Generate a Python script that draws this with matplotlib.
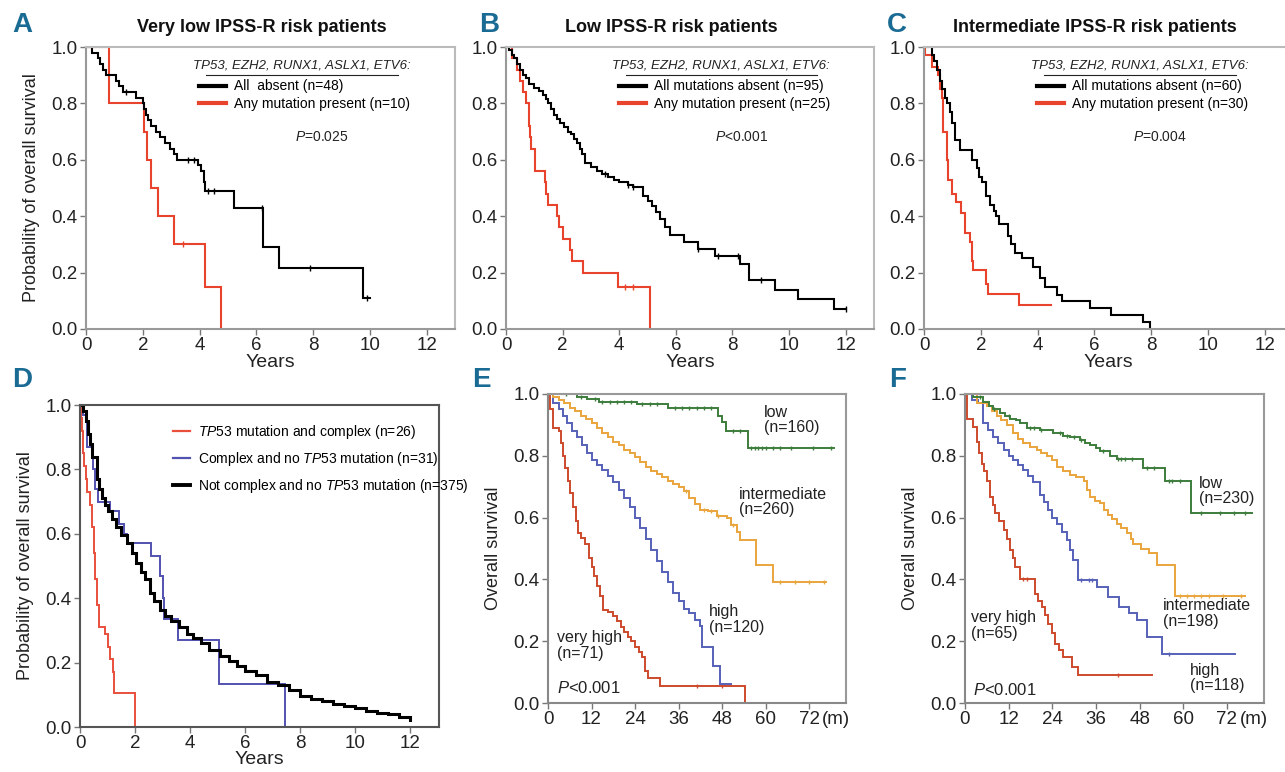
import numpy as np
import matplotlib
matplotlib.use("Agg")
import matplotlib.pyplot as plt
from matplotlib.lines import Line2D

plt.rcParams["font.family"] = ["Liberation Sans", "DejaVu Sans"]
plt.rcParams["mathtext.fontset"] = "custom"
plt.rcParams["mathtext.it"] = "Liberation Sans:italic"
plt.rcParams["mathtext.rm"] = "Liberation Sans"

RED = "#e8432c"
LETTER = "#1a6b94"

# ---- Panel A: very low IPSS-R ----
a_absent_t = [0, 0.22, 0.42, 0.5, 0.6, 0.72, 1.05, 1.15, 1.3, 1.75, 2.0, 2.05, 2.1, 2.2, 2.3, 2.45,
              2.6, 2.8, 2.95, 3.1, 3.2, 3.95, 4.05, 4.15, 4.2, 5.2, 6.25, 6.8, 9.75, 10.0]
a_absent_s = [1, 0.98, 0.96, 0.94, 0.92, 0.90, 0.88, 0.86, 0.84, 0.82, 0.80, 0.78, 0.76, 0.74, 0.72, 0.70,
              0.68, 0.66, 0.64, 0.62, 0.60, 0.58, 0.56, 0.52, 0.49, 0.43, 0.29, 0.215, 0.11, 0.11]
a_absent_cens = [1.4, 3.6, 3.8, 4.3, 4.5, 6.2, 7.9, 9.9]
a_mut_t = [0, 0.8, 2.05, 2.15, 2.3, 2.55, 3.1, 4.2, 4.75]
a_mut_s = [1, 0.8, 0.7, 0.6, 0.5, 0.4, 0.3, 0.15, 0.0]
a_mut_cens = [3.4]

# ---- Panel B: low IPSS-R ----
b_absent_t = [0, 0.1, 0.2, 0.3, 0.4, 0.5, 0.6, 0.7, 0.8, 1.0, 1.15, 1.3, 1.4, 1.5, 1.6, 1.7, 1.8, 1.9,
              2.05, 2.2, 2.3, 2.4, 2.5, 2.6, 2.7, 2.8, 3.0, 3.2, 3.4, 3.6, 3.8, 4.0, 4.3, 4.5, 4.85, 5.0,
              5.15, 5.3, 5.45, 5.6, 5.8, 6.3, 6.8, 7.4, 8.25, 8.6, 9.5, 10.3, 11.6, 12.0]
b_absent_s = [1, 0.99, 0.97, 0.96, 0.94, 0.92, 0.90, 0.89, 0.87, 0.855, 0.845, 0.83, 0.815, 0.80, 0.78,
              0.76, 0.745, 0.73, 0.715, 0.70, 0.69, 0.675, 0.66, 0.64, 0.62, 0.59, 0.575, 0.56, 0.55,
              0.54, 0.53, 0.52, 0.51, 0.505, 0.47, 0.455, 0.435, 0.415, 0.39, 0.36, 0.335, 0.31, 0.285,
              0.26, 0.23, 0.175, 0.14, 0.105, 0.07, 0.07]
b_absent_cens = [3.5, 4.3, 4.5, 6.8, 7.5, 8.2, 9.0, 12.0]
b_mut_t = [0, 0.2, 0.38, 0.5, 0.6, 0.7, 0.8, 0.85, 0.9, 1.02, 1.38, 1.43, 1.5, 1.79, 1.88, 2.0, 2.26,
           2.32, 2.73, 3.96, 5.08]
b_mut_s = [1, 0.96, 0.92, 0.88, 0.84, 0.80, 0.72, 0.68, 0.64, 0.56, 0.52, 0.48, 0.44, 0.40, 0.36, 0.32,
           0.28, 0.24, 0.20, 0.15, 0.0]
b_mut_cens = [4.2, 4.5]

# ---- Panel C: intermediate IPSS-R ----
c_absent_t = [0, 0.27, 0.35, 0.45, 0.55, 0.65, 0.75, 0.82, 0.9, 0.97, 1.09, 1.27, 1.68, 1.85, 1.95, 2.05,
              2.2, 2.32, 2.45, 2.55, 2.65, 2.97, 3.07, 3.2, 3.44, 3.85, 4.08, 4.26, 4.67, 4.85, 5.84,
              6.6, 7.72, 7.95]
c_absent_s = [1, 0.97, 0.95, 0.92, 0.88, 0.85, 0.82, 0.80, 0.77, 0.73, 0.67, 0.634, 0.60, 0.57, 0.54,
              0.52, 0.47, 0.44, 0.42, 0.40, 0.373, 0.33, 0.30, 0.27, 0.25, 0.22, 0.18, 0.15, 0.12, 0.10,
              0.075, 0.05, 0.025, 0.0]
c_mut_t = [0, 0.03, 0.27, 0.5, 0.56, 0.62, 0.68, 0.8, 0.86, 0.97, 1.11, 1.29, 1.44, 1.62, 1.68, 1.74,
           2.18, 2.24, 3.35, 4.46]
c_mut_s = [1, 0.97, 0.93, 0.90, 0.85, 0.82, 0.70, 0.60, 0.53, 0.48, 0.45, 0.41, 0.34, 0.31, 0.24, 0.21,
           0.16, 0.125, 0.085, 0.085]

# ---- Panel D: TP53 / complex karyotype ----
d_tp53_t = [0, 0.03, 0.06, 0.1, 0.15, 0.2, 0.27, 0.35, 0.42, 0.5, 0.55, 0.6, 0.7, 0.9, 1.0, 1.1, 1.2,
            1.25, 2.0]
d_tp53_s = [1, 0.96, 0.92, 0.85, 0.81, 0.77, 0.73, 0.69, 0.62, 0.54, 0.46, 0.38, 0.31, 0.29, 0.25, 0.21,
            0.17, 0.105, 0.0]
d_complex_t = [0, 0.1, 0.25, 0.46, 0.55, 0.67, 1.09, 1.4, 1.6, 1.7, 2.57, 2.9, 3.0, 3.05, 3.58, 5.05, 7.45]
d_complex_s = [1, 0.97, 0.87, 0.80, 0.74, 0.70, 0.67, 0.63, 0.60, 0.57, 0.53, 0.47, 0.40, 0.335, 0.27,
               0.135, 0.0]
d_other_t = [0, 0.1, 0.2, 0.3, 0.36, 0.45, 0.6, 0.7, 0.8, 0.9, 1.0, 1.15, 1.3, 1.5, 1.7, 1.9, 2.05, 2.2,
             2.35, 2.55, 2.7, 2.9, 3.1, 3.3, 3.6, 3.9, 4.1, 4.4, 4.7, 5.1, 5.4, 5.7, 6.0, 6.4, 6.8, 7.2,
             7.6, 8.0, 8.4, 8.8, 9.2, 9.6, 10.0, 10.4, 10.8, 11.2, 11.6, 12.0]
d_other_s = [1, 0.98, 0.95, 0.91, 0.88, 0.84, 0.77, 0.74, 0.71, 0.69, 0.67, 0.645, 0.62, 0.595, 0.57,
             0.54, 0.51, 0.48, 0.46, 0.415, 0.39, 0.364, 0.345, 0.33, 0.31, 0.29, 0.275, 0.26, 0.24,
             0.22, 0.205, 0.19, 0.173, 0.16, 0.14, 0.13, 0.115, 0.095, 0.088, 0.08, 0.07, 0.064, 0.058,
             0.05, 0.045, 0.04, 0.03, 0.023]

# ---- Panel E: IPSS-R groups (months) ----
e_low_t = [0, 8, 10.7, 14, 24.5, 33, 47, 48, 49, 55.2, 79]
e_low_s = [1, 0.99, 0.985, 0.975, 0.967, 0.955, 0.93, 0.91, 0.88, 0.825, 0.825]
e_low_cens = [5, 9, 13, 15, 17, 19, 21, 23, 26, 28, 30, 35, 37, 39, 41, 43, 45, 51, 53, 56, 57, 58,
              59, 60, 62, 64, 67, 73, 78]
e_int_t = [0, 1.5, 3, 4.5, 6, 7.5, 9, 10.5, 12, 13.5, 15, 16.5, 18, 19.5, 21, 22.5, 24, 25.5, 27, 28.5,
           30, 31.5, 33, 34.5, 36, 37.5, 39, 40.5, 42, 44, 46.5, 49.3, 50.6, 52, 53, 57.5, 62, 76.8]
e_int_s = [1, 0.99, 0.98, 0.97, 0.955, 0.945, 0.93, 0.92, 0.905, 0.89, 0.875, 0.86, 0.845, 0.835, 0.82,
           0.81, 0.795, 0.78, 0.765, 0.75, 0.74, 0.73, 0.72, 0.71, 0.70, 0.685, 0.665, 0.645, 0.625,
           0.62, 0.605, 0.60, 0.575, 0.555, 0.527, 0.448, 0.39, 0.39]
e_int_cens = [38, 43, 45, 47, 51, 64, 68, 72, 76]
e_high_t = [0, 1.5, 3, 4, 5.2, 6.5, 8, 9.3, 10.7, 12, 13.5, 15, 16.5, 18, 19.5, 21, 22.5, 24, 25.5, 27,
            28.5, 30, 31.5, 33, 34.5, 36, 37.5, 39, 40.5, 42, 42.6, 45.6, 47.4, 50.6]
e_high_s = [1, 0.97, 0.95, 0.93, 0.905, 0.88, 0.86, 0.835, 0.81, 0.785, 0.77, 0.755, 0.735, 0.715, 0.69,
            0.665, 0.635, 0.60, 0.565, 0.53, 0.495, 0.46, 0.425, 0.39, 0.355, 0.33, 0.305, 0.29, 0.27,
            0.25, 0.18, 0.12, 0.06, 0.06]
e_vhigh_t = [0, 0.6, 1.5, 2.9, 3.5, 4.2, 4.8, 5.5, 6.2, 7, 7.7, 8.4, 9.2, 10.3, 11.2, 12, 12.8, 13.5,
             14.4, 15.3, 16.5, 18, 19, 20, 21, 22, 23, 24, 25, 25.9, 26.8, 27.7, 30.9, 54.3]
e_vhigh_s = [1, 0.95, 0.89, 0.88, 0.84, 0.80, 0.76, 0.72, 0.68, 0.635, 0.59, 0.55, 0.535, 0.515, 0.47,
             0.44, 0.41, 0.38, 0.345, 0.30, 0.295, 0.28, 0.265, 0.245, 0.23, 0.215, 0.20, 0.18, 0.165,
             0.15, 0.105, 0.08, 0.055, 0.0]
e_vhigh_cens = [41, 48]

# ---- Panel F: IPSS-R groups, validation (months) ----
f_low_t = [0, 2.3, 5, 6.5, 7.8, 9.6, 11, 12.4, 14, 15.1, 17, 20.6, 24.3, 27, 29, 31.7, 33, 34.4, 36,
           37.2, 39.9, 41.7, 49, 55, 62, 78.9]
f_low_s = [1, 0.99, 0.975, 0.96, 0.95, 0.94, 0.93, 0.92, 0.915, 0.905, 0.89, 0.885, 0.875, 0.865, 0.86,
           0.85, 0.84, 0.835, 0.825, 0.815, 0.80, 0.79, 0.76, 0.72, 0.615, 0.615]
f_low_cens = [4, 8, 12, 18, 19, 21, 26, 28, 30, 32, 38, 42, 43, 44, 46, 50, 52, 56, 57, 59, 65, 70,
              74, 77]
f_int_t = [0, 3.2, 6, 7.5, 8.7, 10, 11.5, 13.3, 14.5, 16, 17.8, 19.7, 21, 22.5, 24, 25.2, 27, 28.9,
           30.5, 32.6, 33.5, 34.4, 35.8, 37.2, 38.3, 39.4, 40.5, 41.7, 43, 44.5, 45.5, 46.3, 48.5, 50.5,
           52.8, 57.8, 77]
f_int_s = [1, 0.97, 0.96, 0.945, 0.93, 0.915, 0.90, 0.873, 0.855, 0.84, 0.83, 0.82, 0.81, 0.80, 0.785,
           0.765, 0.75, 0.737, 0.73, 0.72, 0.69, 0.667, 0.655, 0.646, 0.625, 0.61, 0.595, 0.58, 0.565,
           0.55, 0.53, 0.516, 0.50, 0.484, 0.448, 0.346, 0.346]
f_int_cens = [59, 61, 63, 65, 67, 71, 76]
f_high_t = [0, 1.8, 3.7, 5, 6.4, 7.8, 9.2, 10.6, 12, 13.3, 14.7, 16, 17.4, 18.8, 20.6, 21.8, 22.9, 24,
            25.2, 26.6, 28, 29, 29.8, 31.2, 36.2, 39.4, 42.2, 45, 47.2, 50, 54.1, 74.3]
f_high_s = [1, 0.98, 0.97, 0.905, 0.885, 0.862, 0.84, 0.82, 0.80, 0.786, 0.77, 0.754, 0.735, 0.716,
            0.673, 0.65, 0.624, 0.60, 0.58, 0.555, 0.527, 0.495, 0.462, 0.397, 0.376, 0.343, 0.311,
            0.29, 0.268, 0.214, 0.16, 0.16]
f_high_cens = [32, 34, 35, 56]
f_vhigh_t = [0, 0.5, 2.3, 3.2, 3.9, 4.6, 5.3, 6, 6.9, 7.6, 8.3, 9.4, 10.6, 11.5, 12.4, 13.1, 13.8, 15.1,
             19.3, 20.2, 21.1, 22, 22.9, 23.8, 24.8, 25.9, 27, 29.4, 31.2, 51.4]
f_vhigh_s = [1, 0.92, 0.894, 0.846, 0.81, 0.775, 0.75, 0.72, 0.667, 0.64, 0.616, 0.59, 0.56, 0.53,
             0.495, 0.47, 0.44, 0.40, 0.354, 0.33, 0.311, 0.285, 0.257, 0.225, 0.192, 0.17, 0.149,
             0.117, 0.09, 0.09]
f_vhigh_cens = [16, 17, 42]

W, H = 1285, 772
TXT = "#222222"


def add_axes(fig, left, right, top, bottom):
    return fig.add_axes([left / W, 1 - bottom / H, (right - left) / W, (bottom - top) / H])


def km(ax, t, s, color, lw=1.4, cens=None, ms=5):
    ax.step(t, s, where="post", color=color, lw=lw, solid_joinstyle="miter")
    if cens:
        idx = np.searchsorted(t, cens, side="right") - 1
        vals = np.asarray(s)[idx]
        ax.plot(cens, vals, ls="none", marker="|", ms=ms, mew=1.0, color=color)


def style(ax, xlim, xticks, spine_color="#999999", box=True, box_color="#bbbbbb"):
    ax.set_xlim(*xlim)
    ax.set_ylim(0, 1.0)
    ax.set_xticks(xticks)
    ax.set_yticks([0, 0.2, 0.4, 0.6, 0.8, 1.0])
    ax.set_yticklabels(["0.0", "0.2", "0.4", "0.6", "0.8", "1.0"])
    ax.tick_params(labelsize=13.5, length=4, width=1, color="#777777", pad=2, labelcolor=TXT)
    for sp in ["left", "bottom"]:
        ax.spines[sp].set_color(spine_color)
        ax.spines[sp].set_linewidth(1.5)
    for sp in ["top", "right"]:
        ax.spines[sp].set_visible(box)
        ax.spines[sp].set_color(box_color)
        ax.spines[sp].set_linewidth(1.5)


def letter(fig, x, y, s):
    fig.text(x / W, 1 - y / H, s, fontsize=20, fontweight="bold", color=LETTER, ha="left", va="center")


fig = plt.figure(figsize=(W / 100, H / 100), dpi=100)

# ---------------- top row ----------------
top_panels = [
    ("A", 12, "Very low IPSS-R risk patients", 262, 86, 455, a_absent_t, a_absent_s, a_absent_cens,
     a_mut_t, a_mut_s, a_mut_cens, "All  absent (n=48)", "Any mutation present (n=10)", "$P$=0.025"),
    ("B", 479, "Low IPSS-R risk patients", 671, 506, 874, b_absent_t, b_absent_s, b_absent_cens,
     b_mut_t, b_mut_s, b_mut_cens, "All mutations absent (n=95)", "Any mutation present (n=25)", "$P$<0.001"),
    ("C", 887, "Intermediate IPSS-R risk patients", 1095, 924, 1293, c_absent_t, c_absent_s, None,
     c_mut_t, c_mut_s, None, "All mutations absent (n=60)", "Any mutation present (n=30)", "$P$=0.004"),
]
for let, lx, title, tx, l, r, t1, s1, c1, t2, s2, c2, lab1, lab2, ptxt in top_panels:
    ax = add_axes(fig, l, r, 47, 329)
    km(ax, t2, s2, RED, lw=1.5, cens=c2)
    km(ax, t1, s1, "black", lw=1.5, cens=c1)
    style(ax, (0, 13.0), [0, 2, 4, 6, 8, 10, 12])
    ax.set_xlabel("Years", fontsize=14, labelpad=0, color=TXT)
    letter(fig, lx, 25, let)
    fig.text(tx / W, 1 - 28 / H, title, fontsize=13, fontweight="bold", ha="center", va="center",
             color="#111111")
    ax.text(0.585, 0.936, "TP53, EZH2, RUNX1, ASLX1, ETV6:", transform=ax.transAxes, fontstyle="italic",
            fontsize=9.5, ha="center", va="center", color=TXT)
    ax.plot([0.325, 0.845], [0.9, 0.9], transform=ax.transAxes, color=TXT, lw=0.8)
    handles = [Line2D([], [], color="black", lw=3), Line2D([], [], color=RED, lw=3)]
    ax.legend(handles, [lab1, lab2], loc="upper left", bbox_to_anchor=(0.30, 0.895), frameon=False,
              fontsize=10, handlelength=1.9, handletextpad=0.6, labelspacing=0.25, borderpad=0.2,
              borderaxespad=0)
    ax.text(0.64, 0.68, ptxt, transform=ax.transAxes, fontsize=10, ha="center", va="center", color=TXT)
    if let == "A":
        ax.set_ylabel("Probability of overall survival", fontsize=13, labelpad=8, color=TXT)

# ---------------- panel D ----------------
ax = add_axes(fig, 80, 439, 405, 727)
km(ax, d_tp53_t, d_tp53_s, "#e8503c", lw=1.4)
km(ax, d_complex_t, d_complex_s, "#5252b0", lw=1.4)
km(ax, d_other_t, d_other_s, "black", lw=2.2)
style(ax, (0, 13.05), [0, 2, 4, 6, 8, 10, 12], spine_color="#555555", box_color="#555555")
ax.set_xlabel("Years", fontsize=14, labelpad=-1, color=TXT)
ax.set_ylabel("Probability of overall survival", fontsize=13, labelpad=8, color=TXT)
letter(fig, 12, 380, "D")
handles = [Line2D([], [], color="#e8503c", lw=1.6), Line2D([], [], color="#5252b0", lw=1.6),
           Line2D([], [], color="black", lw=2.8)]
labels = [r"$\mathit{TP53}$ mutation and complex (n=26)", r"Complex and no $\mathit{TP53}$ mutation (n=31)",
          r"Not complex and no $\mathit{TP53}$ mutation (n=375)"]
ax.legend(handles, labels, loc="upper left", bbox_to_anchor=(0.26, 0.945), frameon=False, fontsize=10,
          handlelength=1.2, handletextpad=0.6, labelspacing=0.65, borderpad=0, borderaxespad=0)

# ---------------- panels E and F ----------------
GREEN, ORANGE, BLUE, DRED = "#3c7d3c", "#eaa53c", "#5660b8", "#cc4a2c"
ef_panels = [
    ("E", 472, 548, 846, (e_low_t, e_low_s, e_low_cens), (e_int_t, e_int_s, e_int_cens),
     (e_high_t, e_high_s, None), (e_vhigh_t, e_vhigh_s, e_vhigh_cens),
     [("low\n(n=160)", 59.6, 0.965), ("intermediate\n(n=260)", 52.7, 0.70),
      ("high\n(n=120)", 44.4, 0.32), ("very high\n(n=71)", 2.5, 0.235)], (2.5, 0.05)),
    ("F", 889, 965, 1264, (f_low_t, f_low_s, f_low_cens), (f_int_t, f_int_s, f_int_cens),
     (f_high_t, f_high_s, f_high_cens), (f_vhigh_t, f_vhigh_s, f_vhigh_cens),
     [("low\n(n=230)", 64.3, 0.735), ("intermediate\n(n=198)", 54.4, 0.34),
      ("high\n(n=118)", 61.8, 0.13), ("very high\n(n=65)", 1.6, 0.30)], (2.2, 0.042)),
]
for let, lx, l, r, low, inter, high, vhigh, labs, ppos in ef_panels:
    ax = add_axes(fig, l, r, 394, 703)
    km(ax, vhigh[0], vhigh[1], DRED, lw=1.4, cens=vhigh[2], ms=3)
    km(ax, high[0], high[1], BLUE, lw=1.4, cens=high[2], ms=3)
    km(ax, inter[0], inter[1], ORANGE, lw=1.4, cens=inter[2], ms=3)
    km(ax, low[0], low[1], GREEN, lw=1.4, cens=low[2], ms=3)
    style(ax, (0, 82.2), [0, 12, 24, 36, 48, 60, 72], spine_color="#888888", box_color="#999999")
    ax.set_ylabel("Overall survival", fontsize=13, labelpad=8, color=TXT)
    ax.annotate("(m)", xy=(79.3, 0), xycoords=("data", "axes fraction"), xytext=(0, -6),
                textcoords="offset points", fontsize=13.5, ha="center", va="top", color=TXT)
    for txt, x, y in labs:
        ax.text(x, y, txt, fontsize=11.5, ha="left", va="top", color=TXT, linespacing=1.05)
    ax.text(ppos[0], ppos[1], "$P$<0.001", fontsize=12, ha="left", va="center", color=TXT)
    letter(fig, lx, 380, let)

fig.savefig("out.png", dpi=100)
